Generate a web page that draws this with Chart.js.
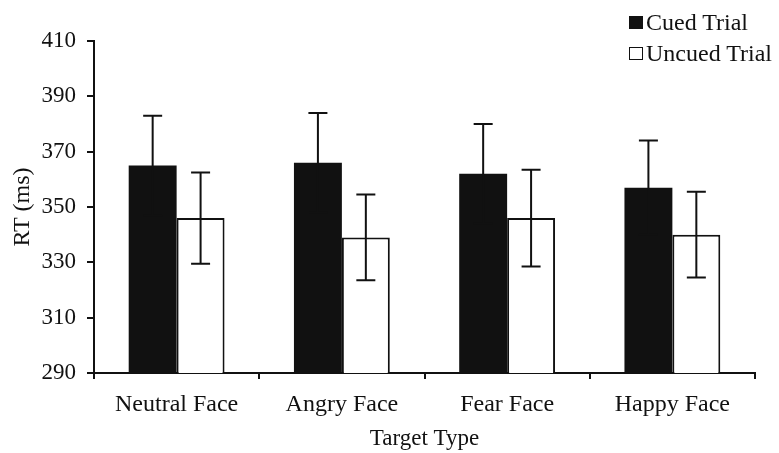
<!DOCTYPE html>
<html>
<head>
<meta charset="utf-8">
<script src="https://cdn.jsdelivr.net/npm/chart.js@4.4.1/dist/chart.umd.min.js"></script>
<style>
  html, body { margin: 0; padding: 0; background: #fff; }
  #wrap { position: relative; width: 779px; height: 453px; }
  #legend { position: absolute; left: 629px; top: 7px; font-family: "Liberation Serif", "Times New Roman", serif; font-size: 24px; color: #111; line-height: 31px; }
  .row { display: flex; align-items: center; white-space: nowrap; }
  .sw { width: 14px; height: 13px; box-sizing: border-box; border: 1.5px solid #111; margin-right: 3px; }
</style>
</head>
<body>
<div id="wrap">
  <canvas id="c" width="779" height="453"></canvas>
  <div id="legend"></div>
</div>
<script>
const categories = ["Neutral Face", "Angry Face", "Fear Face", "Happy Face"];
const seriesNames = ["Cued Trial", "Uncued Trial"];
const cuedRT = [365, 366, 362, 357];
const cuedErr = [18, 18, 18, 17];
const uncuedRT = [346, 339, 346, 340];
const uncuedErr = [16.5, 15.5, 17.5, 15.5];
const yTicks = [290, 310, 330, 350, 370, 390, 410];

const FONT = '"Liberation Serif", "Times New Roman", serif';
const INK = '#111';

const errorBars = {
  id: 'errorBars',
  afterDatasetsDraw(chart) {
    const ctx = chart.ctx;
    const ys = chart.scales.y;
    chart.data.datasets.forEach((ds, di) => {
      const meta = chart.getDatasetMeta(di);
      meta.data.forEach((bar, i) => {
        const v = ds.data[i], e = ds.errors[i];
        const yt = ys.getPixelForValue(v + e);
        const yb = ys.getPixelForValue(v - e);
        const x = bar.x, cap = 9.5;
        ctx.save();
        ctx.strokeStyle = INK;
        ctx.lineWidth = 2;
        ctx.beginPath();
        ctx.moveTo(x, yt); ctx.lineTo(x, yb);
        ctx.moveTo(x - cap, yt); ctx.lineTo(x + cap, yt);
        ctx.moveTo(x - cap, yb); ctx.lineTo(x + cap, yb);
        ctx.stroke();
        ctx.restore();
      });
    });
  }
};

const chart = new Chart(document.getElementById('c'), {
  type: 'bar',
  data: {
    labels: categories,
    datasets: [
      { label: seriesNames[0], data: cuedRT, errors: cuedErr, backgroundColor: INK, borderColor: INK, borderWidth: 0 },
      { label: seriesNames[1], data: uncuedRT, errors: uncuedErr, backgroundColor: '#fff', borderColor: INK, borderWidth: 2 }
    ]
  },
  options: {
    responsive: false,
    animation: false,
    devicePixelRatio: 1,
    layout: { padding: { top: 41, right: 24, left: 0, bottom: 0 } },
    plugins: { legend: { display: false }, tooltip: { enabled: false } },
    datasets: { bar: { categoryPercentage: 0.58, barPercentage: 1.0 } },
    scales: {
      x: {
        afterFit(s) { s.height = 80; },
        grid: { display: true, drawOnChartArea: false, drawTicks: true, tickLength: 6, color: INK, lineWidth: 2, offset: true },
        border: { display: true, color: INK, width: 2 },
        ticks: { color: INK, font: { family: FONT, size: 24 }, padding: 11 },
        title: { display: true, text: 'Target Type', color: INK, font: { family: FONT, size: 23 }, padding: { top: 0, bottom: 0 } }
      },
      y: {
        min: 290, max: 410,
        afterFit(s) { s.width = 94; },
        afterBuildTicks(s) { s.ticks = yTicks.map(v => ({ value: v })); },
        grid: { display: true, drawOnChartArea: false, drawTicks: true, tickLength: 7, color: INK, lineWidth: 2 },
        border: { display: true, color: INK, width: 2 },
        ticks: { color: INK, font: { family: FONT, size: 23 }, padding: 11 },
        title: { display: true, text: 'RT (ms)', color: INK, font: { family: FONT, size: 24 }, padding: { top: 8, bottom: 0 } }
      }
    }
  },
  plugins: [errorBars]
});

const lg = document.getElementById('legend');
chart.data.datasets.forEach(ds => {
  const row = document.createElement('div');
  row.className = 'row';
  const sw = document.createElement('span');
  sw.className = 'sw';
  sw.style.background = ds.backgroundColor;
  row.appendChild(sw);
  row.appendChild(document.createTextNode(ds.label));
  lg.appendChild(row);
});
</script>
</body>
</html>
